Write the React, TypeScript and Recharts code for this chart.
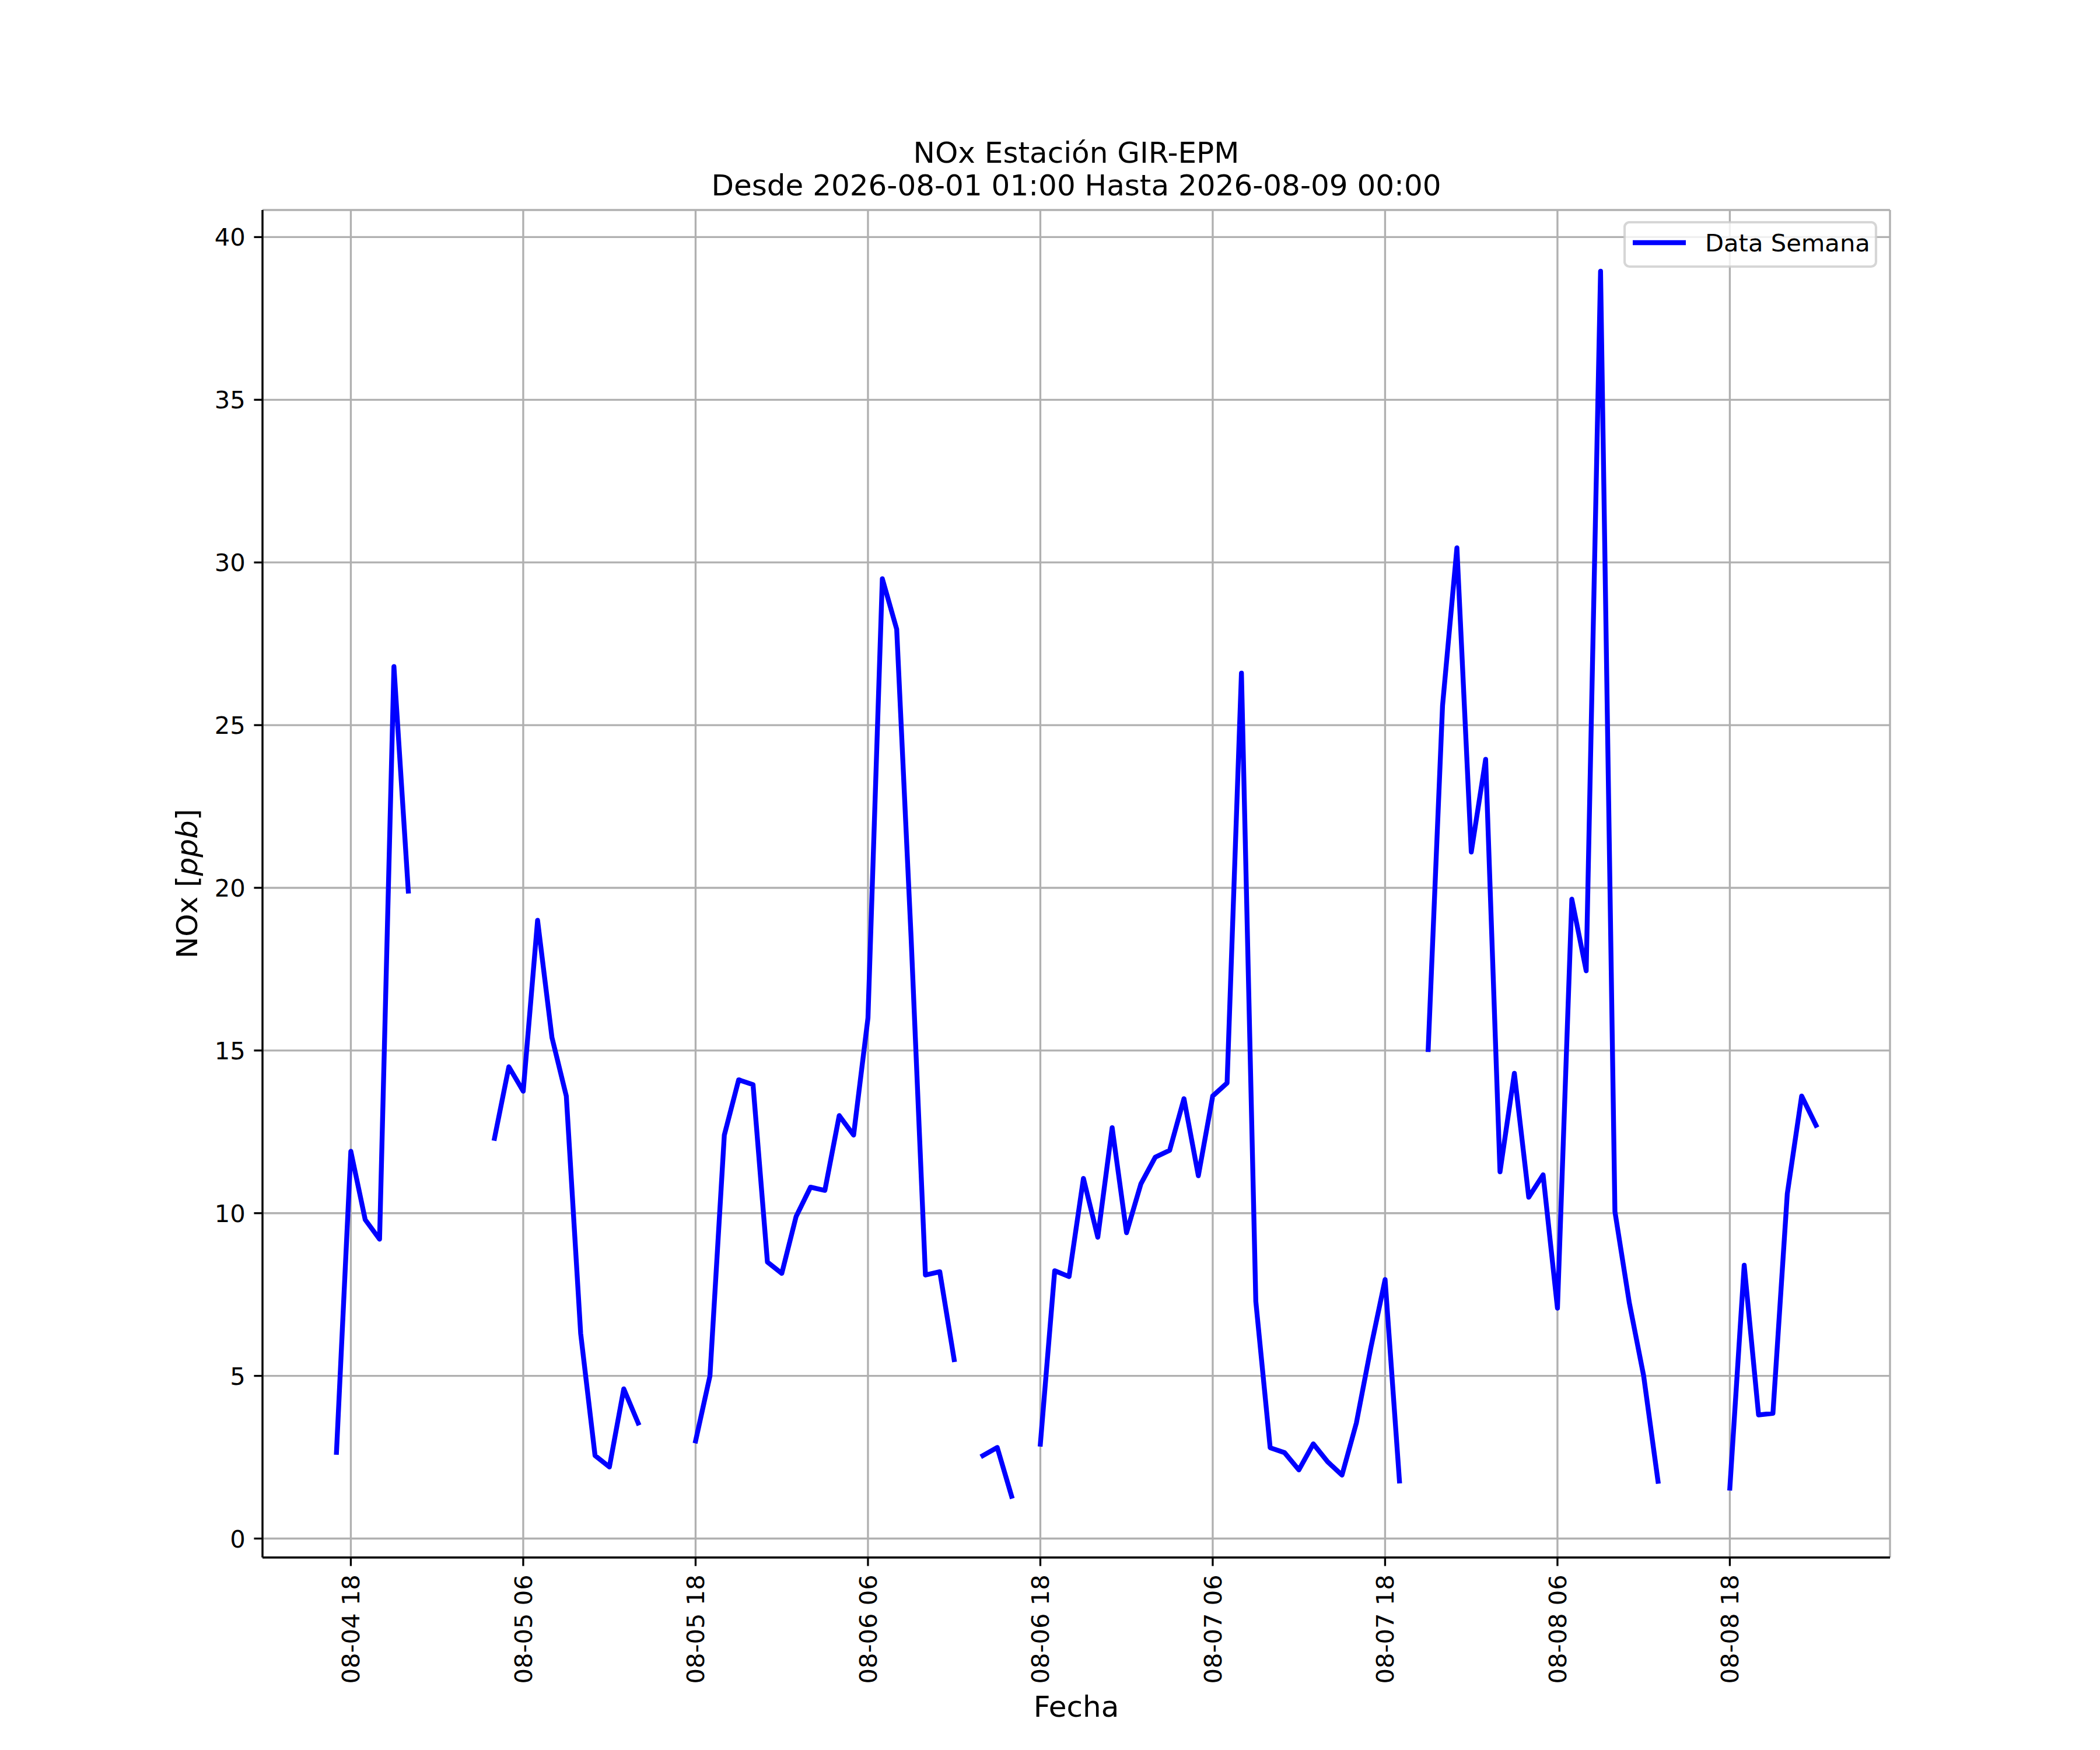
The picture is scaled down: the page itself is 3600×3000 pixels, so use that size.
import React from "react";
import {
  CartesianGrid,
  Legend,
  Line,
  LineChart,
  XAxis,
  YAxis,
} from "recharts";

// hourly NOx readings from 2026-08-04 17:00 to 2026-08-09 00:00 (null = no data)
const startLabel = "2026-08-04 17:00";
const noxValues: (number | null)[] = [
  2.65, 11.9, 9.8, 9.2, 26.8, 19.9, null, null, null, null,
  null, 12.3, 14.5, 13.75, 19.0, 15.4, 13.6, 6.3, 2.55, 2.2,
  4.6, 3.55, null, null, null, 3.0, 5.0, 12.4, 14.1, 13.95,
  8.5, 8.15, 9.9, 10.8, 10.7, 13.0, 12.4, 16.0, 29.5, 27.95,
  18.5, 8.1, 8.2, 5.5, null, 2.55, 2.8, 1.3, null, 2.9,
  8.23, 8.05, 11.07, 9.26, 12.63, 9.4, 10.9, 11.72, 11.93, 13.52,
  11.15, 13.6, 14.0, 26.6, 7.29, 2.79, 2.64, 2.11, 2.91, 2.36,
  1.95, 3.55, 5.85, 7.96, 1.77, null, 15.03, 25.6, 30.45, 21.1,
  23.95, 11.27, 14.3, 10.49, 11.18, 7.08, 19.65, 17.45, 38.95, 10.05,
  7.25, 5.0, 1.76, null, null, null, null, 1.55, 8.4, 3.8,
  3.85, 10.6, 13.6, 12.7,
];

const xTickLabels = [
  "2026-08-04 18:00",
  "2026-08-05 06:00",
  "2026-08-05 18:00",
  "2026-08-06 06:00",
  "2026-08-06 18:00",
  "2026-08-07 06:00",
  "2026-08-07 18:00",
  "2026-08-08 06:00",
  "2026-08-08 18:00",
];
const yTicks = [0, 5, 10, 15, 20, 25, 30, 35, 40];

const titleLines = [
  "NOx Estación GIR-EPM",
  "Desde 2026-08-01 01:00 Hasta 2026-08-09 00:00",
];
const seriesName = "Data Semana";

const HOUR = 3600 * 1000;
const FONT = "DejaVu Sans";
const PT = 300 / 72;

const parseTime = (s: string) => {
  const [d, t] = s.split(" ");
  const [yy, mm, dd] = d.split("-").map(Number);
  const [hh, mi] = t.split(":").map(Number);
  return Date.UTC(yy, mm - 1, dd, hh, mi);
};

const pad2 = (n: number) => String(n).padStart(2, "0");
const fmtTick = (ms: number) => {
  const d = new Date(ms);
  return `${pad2(d.getUTCMonth() + 1)}-${pad2(d.getUTCDate())} ${pad2(d.getUTCHours())}`;
};

const start = parseTime(startLabel);
const data = noxValues.map((v, i) => ({ t: start + i * HOUR, nox: v }));
const xTicks = xTickLabels.map(parseTime);

// matplotlib style 5% autoscale margins
const tMin = data[0].t;
const tMax = data[data.length - 1].t;
const tPad = (tMax - tMin) * 0.05;
const nums = noxValues.filter((v): v is number => v !== null);
const vMin = Math.min(...nums);
const vMax = Math.max(...nums);
const vPad = (vMax - vMin) * 0.05;

const XTick = (props: any) => {
  const { x, y, payload } = props;
  return (
    <text
      x={x}
      y={y}
      transform={`rotate(-90, ${x}, ${y})`}
      textAnchor="end"
      dy="0.36em"
      fontSize={10 * PT}
      fontFamily={FONT}
      fill="#000"
    >
      {fmtTick(payload.value)}
    </text>
  );
};

const YTick = (props: any) => {
  const { x, y, payload } = props;
  return (
    <text
      x={x}
      y={y}
      textAnchor="end"
      dy="0.36em"
      fontSize={10 * PT}
      fontFamily={FONT}
      fill="#000"
    >
      {payload.value}
    </text>
  );
};

// x label plus the two line title above the plot
const XLabel = () => (
  <g fontSize={12 * PT} fontFamily={FONT} fill="#000">
    <text x={1845} y={2943} textAnchor="middle">
      Fecha
    </text>
    <text textAnchor="middle">
      <tspan x={1845} y={279}>
        {titleLines[0]}
      </tspan>
      <tspan x={1845} y={335}>
        {titleLines[1]}
      </tspan>
    </text>
  </g>
);

const YLabel = () => (
  <text
    x={338}
    y={1515}
    transform="rotate(-90, 338, 1515)"
    textAnchor="middle"
    fontSize={12 * PT}
    fontFamily={FONT}
    fill="#000"
  >
    NOx [<tspan fontStyle="italic">ppb</tspan>]
  </text>
);

const LegendBox = () => (
  <svg width={436} height={82} style={{ display: "block" }}>
    <rect
      x={2}
      y={2}
      width={435 - 4}
      height={76}
      rx={8.3}
      fill="#fff"
      fillOpacity={0.8}
      stroke="#cccccc"
      strokeOpacity={0.8}
      strokeWidth={1 * PT}
    />
    <line x1={16} y1={37} x2={107} y2={37} stroke="#0000ff" strokeWidth={2 * PT} />
    <text x={140} y={52} fontSize={10 * PT} fontFamily={FONT} fill="#000">
      {seriesName}
    </text>
  </svg>
);

const spine = { stroke: "#000", strokeWidth: 0.8 * PT };

const App = () => {
  return (
    <div
      style={{
        position: "absolute",
        left: 0,
        top: 0,
        width: 3600,
        height: 3000,
        background: "#fff",
      }}
    >
      <LineChart
        width={3600}
        height={3000}
        data={data}
        margin={{ top: 360, right: 360, bottom: 0, left: 0 }}
      >
        <CartesianGrid stroke="#b0b0b0" strokeWidth={0.8 * PT} />
        <XAxis
          dataKey="t"
          type="number"
          scale="linear"
          domain={[tMin - tPad, tMax + tPad]}
          allowDataOverflow
          ticks={xTicks}
          interval={0}
          height={330}
          tickSize={3.5 * PT}
          tickMargin={3.5 * PT}
          tick={<XTick />}
          tickLine={spine}
          axisLine={spine}
          label={<XLabel />}
        />
        <XAxis
          xAxisId="top"
          orientation="top"
          type="number"
          domain={[tMin - tPad, tMax + tPad]}
          allowDataOverflow
          height={0}
          tick={false}
          tickLine={false}
          axisLine={spine}
        />
        <YAxis
          type="number"
          domain={[vMin - vPad, vMax + vPad]}
          allowDataOverflow
          ticks={yTicks}
          interval={0}
          width={450}
          tickSize={3.5 * PT}
          tickMargin={3.5 * PT}
          tick={<YTick />}
          tickLine={spine}
          axisLine={spine}
          label={<YLabel />}
        />
        <YAxis
          yAxisId="right"
          orientation="right"
          type="number"
          domain={[vMin - vPad, vMax + vPad]}
          allowDataOverflow
          width={0}
          tick={false}
          tickLine={false}
          axisLine={spine}
        />
        <Legend
          layout="horizontal"
          verticalAlign="middle"
          align="center"
          content={<LegendBox />}
          wrapperStyle={{
            position: "absolute",
            left: 2783,
            top: 379,
            width: 436,
            height: 82,
            margin: 0,
          }}
        />
        <Line
          type="linear"
          dataKey="nox"
          name={seriesName}
          stroke="#0000ff"
          strokeWidth={2 * PT}
          strokeLinejoin="round"
          strokeLinecap="square"
          dot={false}
          activeDot={false}
          connectNulls={false}
          isAnimationActive={false}
        />
      </LineChart>
    </div>
  );
};

export default App;
